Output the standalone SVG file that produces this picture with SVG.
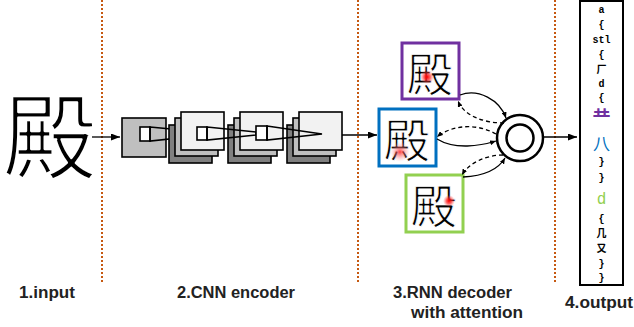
<svg xmlns="http://www.w3.org/2000/svg" width="634" height="327" viewBox="0 0 634 327">
<style>
.sep{stroke:#c65911;stroke-width:2;stroke-dasharray:2 2;fill:none}
.blk{stroke:#000;stroke-width:1.6}
.trap{fill:none;stroke:#000;stroke-width:1.6;stroke-linejoin:miter}
.conn{fill:none;stroke:#000;stroke-width:1.3}
.dash{stroke-dasharray:4 3}
.lbl{font-family:"Liberation Sans",Arial,sans-serif;font-weight:bold;font-size:16px;fill:#222}
.cjk{font-family:"Noto Sans CJK SC","Noto Sans CJK JP",sans-serif}
.thin{stroke:#fff;stroke-linejoin:round}
.out{font-family:"Liberation Mono","Noto Sans CJK SC",monospace;font-weight:bold;font-size:10px;text-anchor:middle;fill:#000}
</style>
<defs>
<marker id="ah" markerUnits="userSpaceOnUse" markerWidth="9" markerHeight="7" refX="9" refY="3.5" orient="auto"><path d="M0,0 L9,3.5 L0,7 z" fill="#000"/></marker>
<marker id="ahs" markerUnits="userSpaceOnUse" markerWidth="6" markerHeight="5" refX="6" refY="2.5" orient="auto"><path d="M0,0 L6,2.5 L0,5 z" fill="#000"/></marker>
<radialGradient id="spot"><stop offset="0" stop-color="#ff0000" stop-opacity="1"/><stop offset="0.45" stop-color="#ff2020" stop-opacity="0.7"/><stop offset="1" stop-color="#ff6060" stop-opacity="0"/></radialGradient>
<radialGradient id="spot2"><stop offset="0" stop-color="#ff2020" stop-opacity="0.85"/><stop offset="0.5" stop-color="#ff7070" stop-opacity="0.45"/><stop offset="1" stop-color="#ffb0b0" stop-opacity="0"/></radialGradient>
</defs>
<rect width="634" height="327" fill="#fff"/>

<g id="separators">
<line class="sep" x1="102" y1="0" x2="102" y2="284"/>
<line class="sep" x1="358" y1="0" x2="358" y2="284"/>
<line class="sep" x1="555" y1="0" x2="555" y2="284"/>
</g>

<g id="input">
<text x="50" y="172" font-size="94" text-anchor="middle" class="cjk thin" stroke-width="2.3" fill="#000">殿</text>
</g>

<g id="cnn-encoder">
<rect class="blk" x="122" y="118" width="44" height="39" fill="#bfbfbf"/>
<rect class="blk" x="140" y="127" width="10" height="14" fill="#fff"/>
<polygon class="trap" points="150,127 197,131.5 197,136 150,141"/>
<rect class="blk" x="169" y="125" width="43" height="38" fill="#808080"/>
<rect class="blk" x="175" y="118" width="43" height="38" fill="#bfbfbf"/>
<rect class="blk" x="181" y="112" width="43" height="38" fill="#f2f2f2"/>
<rect class="blk" x="197" y="127" width="10" height="13" fill="#fff"/>
<rect class="blk" x="228" y="125" width="43" height="38" fill="#808080"/>
<rect class="blk" x="234" y="118" width="43" height="38" fill="#bfbfbf"/>
<rect class="blk" x="240" y="112" width="43" height="38" fill="#f2f2f2"/>
<polygon class="trap" points="207,127 256,132 256,135 207,140"/>
<rect class="blk" x="287" y="125" width="43" height="38" fill="#808080"/>
<rect class="blk" x="293" y="118" width="43" height="38" fill="#bfbfbf"/>
<rect class="blk" x="299" y="112" width="43" height="38" fill="#f2f2f2"/>
<rect class="blk" x="256" y="126" width="11" height="14" fill="#fff"/>
<polygon class="trap" points="267,126 322,134 267,140"/>
</g>

<g id="attn-purple">
<rect x="402" y="43" width="57" height="56" fill="#fff" stroke="#7030a0" stroke-width="3"/>
<text x="430" y="91" font-size="46" text-anchor="middle" class="cjk thin" stroke-width="0.9" fill="#000">殿</text>
<circle cx="427" cy="77" r="7" fill="url(#spot)"/>
</g>
<g id="attn-blue">
<rect x="379" y="109" width="57" height="57" fill="#fff" stroke="#0070c0" stroke-width="3"/>
<text x="407" y="157" font-size="46" text-anchor="middle" class="cjk thin" stroke-width="0.9" fill="#000">殿</text>
<circle cx="400" cy="152" r="10" fill="url(#spot2)"/>
</g>
<g id="attn-green">
<rect x="406" y="175" width="57" height="57" fill="#fff" stroke="#92d050" stroke-width="3"/>
<text x="434" y="223" font-size="46" text-anchor="middle" class="cjk thin" stroke-width="0.9" fill="#000">殿</text>
<circle cx="449" cy="201" r="6" fill="url(#spot)"/>
</g>

<g id="rnn-cell">
<circle cx="520" cy="138" r="23" fill="#fff" stroke="#000" stroke-width="2.5"/>
<circle cx="520" cy="138" r="13.5" fill="none" stroke="#000" stroke-width="2.5"/>
</g>

<g id="output">
<rect x="580" y="1" width="43" height="284" fill="#fff" stroke="#000" stroke-width="2"/>
<text class="out" x="601.5" y="12.5">a</text>
<text class="out" x="601.5" y="27.5">{</text>
<text class="out" x="601.5" y="42.5">stl</text>
<text class="out" x="601.5" y="57.5">{</text>
<text class="out" x="601.5" y="72.5">厂</text>
<text class="out" x="601.5" y="86.5">d</text>
<text class="out" x="601.5" y="101">{</text>
<text x="601.5" y="124" font-size="18" font-weight="bold" text-anchor="middle" class="cjk" fill="#7030a0">龷</text>
<text x="601.5" y="150" font-size="17" text-anchor="middle" class="cjk" fill="#0070c0">八</text>
<text class="out" x="601.5" y="164.5">}</text>
<text class="out" x="601.5" y="180.5">}</text>
<text x="601.5" y="204" font-size="16" text-anchor="middle" font-family="Liberation Mono, monospace" fill="#92d050">d</text>
<text class="out" x="601.5" y="221.5">{</text>
<text class="out" x="601.5" y="236.5">几</text>
<text class="out" x="601.5" y="251.5">又</text>
<text class="out" x="601.5" y="266.5">}</text>
<text class="out" x="601.5" y="280.5">}</text>
</g>

<g id="connectors">
<line class="conn" x1="92" y1="137" x2="120" y2="137" stroke-width="1.5" marker-end="url(#ah)"/>
<line class="conn" x1="342" y1="135" x2="377" y2="135" stroke-width="1.5" marker-end="url(#ah)"/>
<line class="conn" x1="544" y1="137" x2="577" y2="137" stroke-width="1.5" marker-end="url(#ah)"/>
<path class="conn" d="M460,95 C478,88 500,100 506,118" marker-end="url(#ahs)"/>
<path class="conn dash" d="M504,123 C484,123 464,116 458,101" marker-end="url(#ahs)"/>
<path class="conn dash" d="M496,134 C475,122 450,126 437,137" marker-end="url(#ahs)"/>
<path class="conn" d="M437,139 C455,150 480,146 496,141" marker-end="url(#ahs)"/>
<path class="conn dash" d="M503,155 C485,155 468,164 462,175" marker-end="url(#ahs)"/>
<path class="conn" d="M463,177 C482,176 498,170 505,158" marker-end="url(#ahs)"/>
</g>

<g id="labels">
<text class="lbl" x="19" y="298" textLength="56" lengthAdjust="spacingAndGlyphs">1.input</text>
<text class="lbl" x="177" y="298" textLength="118" lengthAdjust="spacingAndGlyphs">2.CNN encoder</text>
<text class="lbl" x="393" y="298" textLength="119" lengthAdjust="spacingAndGlyphs">3.RNN decoder</text>
<text class="lbl" x="411" y="318" textLength="112" lengthAdjust="spacingAndGlyphs">with attention</text>
<text class="lbl" x="565" y="308" textLength="68" lengthAdjust="spacingAndGlyphs">4.output</text>
</g>
</svg>
